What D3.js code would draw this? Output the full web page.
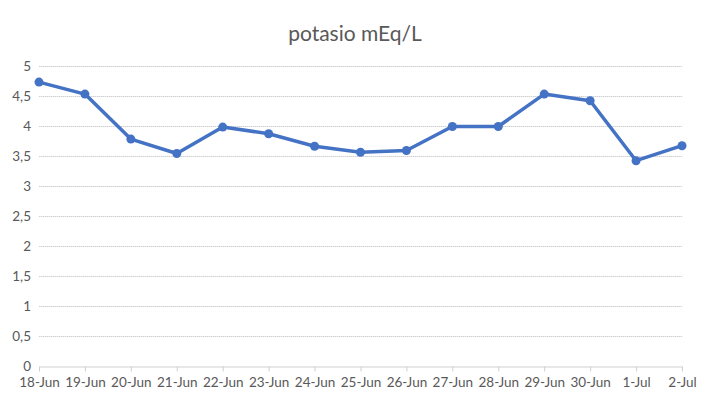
<!DOCTYPE html>
<html>
<head>
<meta charset="utf-8">
<script src="https://cdn.jsdelivr.net/npm/d3@7"></script>
<style>
  body { margin: 0; background: #fff; }
  text { font-family: Lato, "Open Sans", sans-serif; fill: #595959; }
</style>
</head>
<body>
<div id="viz"></div>
<script>
// chart data
var dates = ['18-Jun', '19-Jun', '20-Jun', '21-Jun', '22-Jun', '23-Jun', '24-Jun', '25-Jun',
             '26-Jun', '27-Jun', '28-Jun', '29-Jun', '30-Jun', '1-Jul', '2-Jul'];
var potasio = [4.74, 4.54, 3.79, 3.55, 3.99, 3.88, 3.67, 3.57, 3.6, 4.0, 4.0, 4.54, 4.43, 3.43, 3.68];
var yTicks = [0, 0.5, 1, 1.5, 2, 2.5, 3, 3.5, 4, 4.5, 5];
var title = 'potasio mEq/L';

var width = 709, height = 401;
var plotLeft = 39, plotRight = 682, plotTop = 66.5, plotBottom = 366.5;

var svg = d3.select('#viz').append('svg')
  .attr('width', width)
  .attr('height', height);

// title
svg.append('text')
  .attr('x', 355)
  .attr('y', 41)
  .attr('text-anchor', 'middle')
  .style('font-size', '21px')
  .text(title);

var x = d3.scalePoint().domain(dates).range([plotLeft, plotRight]);
var y = d3.scaleLinear().domain([0, 5]).range([plotBottom, plotTop]);

// horizontal gridlines
svg.append('g')
  .selectAll('line')
  .data(yTicks.filter(function (d) { return d > 0; }))
  .enter()
  .append('line')
  .attr('x1', plotLeft)
  .attr('x2', plotRight)
  .attr('y1', function (d) { return y(d); })
  .attr('y2', function (d) { return y(d); })
  .attr('stroke', '#d0d0d0')
  .attr('stroke-width', 1)
  .attr('stroke-dasharray', '1.5,0.5');

// y axis labels (no line)
var yAxis = svg.append('g')
  .attr('transform', 'translate(' + plotLeft + ',0)')
  .call(d3.axisLeft(y).tickValues(yTicks).tickSize(0).tickPadding(8)
    .tickFormat(function (d) { return String(d).replace('.', ','); }));
yAxis.select('.domain').remove();
yAxis.selectAll('text')
  .style('font-size', '13.5px')
  .style('font-family', 'Lato, sans-serif')
  .attr('fill', '#595959');

// x axis
var xAxis = svg.append('g')
  .attr('transform', 'translate(0,' + plotBottom + ')')
  .call(d3.axisBottom(x).tickSize(5).tickPadding(6).tickSizeOuter(0));
xAxis.select('.domain').attr('stroke', '#d0d0d0');
xAxis.selectAll('.tick line').attr('stroke', '#d0d0d0');
xAxis.selectAll('text')
  .style('font-size', '13.5px')
  .style('font-family', 'Lato, sans-serif')
  .attr('fill', '#595959');

// line
var line = d3.line()
  .x(function (d, i) { return x(dates[i]); })
  .y(function (d) { return y(d); });

svg.append('path')
  .datum(potasio)
  .attr('d', line)
  .attr('fill', 'none')
  .attr('stroke', '#4472c4')
  .attr('stroke-width', 3.5)
  .attr('stroke-linejoin', 'round');

// markers
svg.append('g')
  .selectAll('circle')
  .data(potasio)
  .enter()
  .append('circle')
  .attr('cx', function (d, i) { return x(dates[i]); })
  .attr('cy', function (d) { return y(d); })
  .attr('r', 4.5)
  .attr('fill', '#4472c4');
</script>
</body>
</html>
